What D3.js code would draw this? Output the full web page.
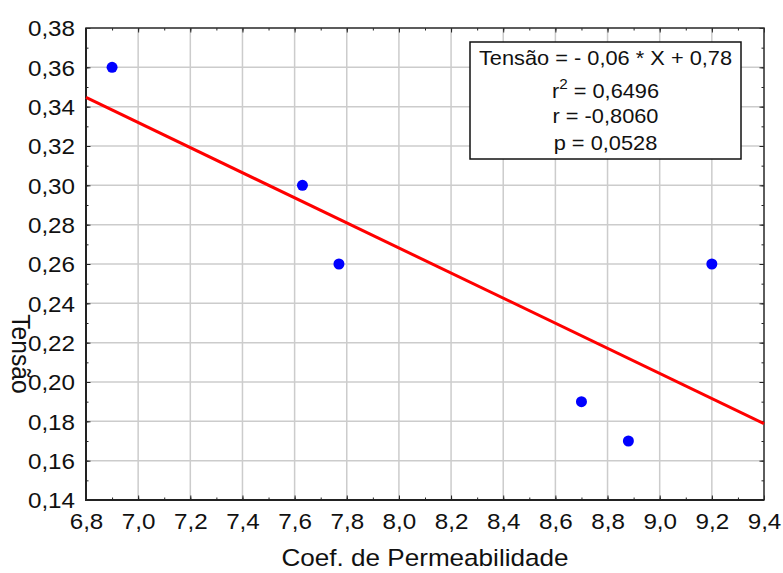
<!DOCTYPE html>
<html>
<head>
<meta charset="utf-8">
<script src="https://cdn.jsdelivr.net/npm/d3@7"></script>
<style>
  html, body { margin: 0; padding: 0; background: #fff; }
  svg { display: block; font-family: "Liberation Sans", Arial, sans-serif; }
</style>
</head>
<body>
<svg id="chart" width="783" height="573"></svg>
<script>
// ---- data ----
const permeabilidade = [6.9, 7.63, 7.77, 8.70, 8.88, 9.20];
const tensao = [0.36, 0.30, 0.26, 0.19, 0.17, 0.26];
const xTicks = [6.8, 7.0, 7.2, 7.4, 7.6, 7.8, 8.0, 8.2, 8.4, 8.6, 8.8, 9.0, 9.2, 9.4];
const yTicks = [0.14, 0.16, 0.18, 0.20, 0.22, 0.24, 0.26, 0.28, 0.30, 0.32, 0.34, 0.36, 0.38];
const statsLines = ["Tensão = - 0,06 * X + 0,78", "= 0,6496", "r = -0,8060", "p = 0,0528"];
const xTitle = "Coef. de Permeabilidade";
const yTitle = "Tensão";

// ---- layout ----
const W = 783, H = 573;
const plot = { left: 86, top: 28, right: 764, bottom: 500 };
const svg = d3.select("#chart");
svg.append("rect").attr("width", W).attr("height", H).attr("fill", "#fff");

const x = d3.scaleLinear().domain([6.8, 9.4]).range([plot.left, plot.right]);
const y = d3.scaleLinear().domain([0.14, 0.38]).range([plot.bottom, plot.top]);
const fmt = d => d3.format(".1f")(d).replace(".", ",");
const fmtY = d => d3.format(".2f")(d).replace(".", ",");

// grid
const grid = svg.append("g").attr("stroke", "#cccccc").attr("stroke-width", 1.5);
grid.selectAll("line.vx").data(xTicks).join("line")
  .attr("x1", d => x(d)).attr("x2", d => x(d))
  .attr("y1", plot.top).attr("y2", plot.bottom);
grid.selectAll("line.hy").data(yTicks).join("line")
  .attr("y1", d => y(d)).attr("y2", d => y(d))
  .attr("x1", plot.left).attr("x2", plot.right);

// minor tick values
const xMinor = d3.range(6.8, 9.4001, 0.1);
const yMinor = d3.range(0.14, 0.38001, 0.01);

// axes with inward ticks
function styleTicks(g) { g.select(".domain").remove(); g.selectAll("line").attr("stroke", "#222"); }
// bottom
svg.append("g").attr("transform", `translate(0,${plot.bottom})`)
  .call(d3.axisBottom(x).tickValues(xMinor).tickSize(-2.5).tickFormat(""))
  .call(styleTicks);
const xAx = svg.append("g").attr("transform", `translate(0,${plot.bottom})`)
  .call(d3.axisBottom(x).tickValues(xTicks).tickSize(-4.5).tickFormat(fmt).tickPadding(28))
  .call(styleTicks);
xAx.selectAll("text").attr("font-size", 22).attr("fill", "#111")
  .attr("font-family", "Liberation Sans, Arial, sans-serif")
  .attr("dy", 0).attr("y", 29).attr("transform", "scale(1.1,1)");
// top
svg.append("g").attr("transform", `translate(0,${plot.top})`)
  .call(d3.axisTop(x).tickValues(xMinor).tickSize(-2.5).tickFormat(""))
  .call(styleTicks);
svg.append("g").attr("transform", `translate(0,${plot.top})`)
  .call(d3.axisTop(x).tickValues(xTicks).tickSize(-4.5).tickFormat(""))
  .call(styleTicks);
// left
svg.append("g").attr("transform", `translate(${plot.left},0)`)
  .call(d3.axisLeft(y).tickValues(yMinor).tickSize(-2.5).tickFormat(""))
  .call(styleTicks);
const yAx = svg.append("g").attr("transform", `translate(${plot.left},0)`)
  .call(d3.axisLeft(y).tickValues(yTicks).tickSize(-4.5).tickFormat(fmtY))
  .call(styleTicks);
yAx.selectAll("text").attr("font-size", 22).attr("fill", "#111")
  .attr("font-family", "Liberation Sans, Arial, sans-serif")
  .attr("x", -10).attr("dy", "0.36em").attr("transform", "scale(1.1,1)");
// right
svg.append("g").attr("transform", `translate(${plot.right},0)`)
  .call(d3.axisRight(y).tickValues(yMinor).tickSize(-2.5).tickFormat(""))
  .call(styleTicks);
svg.append("g").attr("transform", `translate(${plot.right},0)`)
  .call(d3.axisRight(y).tickValues(yTicks).tickSize(-4.5).tickFormat(""))
  .call(styleTicks);

// frame
svg.append("rect")
  .attr("x", plot.left).attr("y", plot.top)
  .attr("width", plot.right - plot.left).attr("height", plot.bottom - plot.top)
  .attr("fill", "none").attr("stroke", "#333").attr("stroke-width", 1.5);
svg.append("path")
  .attr("d", `M${plot.left},${plot.top}V${plot.bottom}H${plot.right}`)
  .attr("fill", "none").attr("stroke", "#222").attr("stroke-width", 2);

// regression line (least squares from data)
const mx = d3.mean(permeabilidade), my = d3.mean(tensao);
const sxy = d3.sum(permeabilidade, (v, i) => (v - mx) * (tensao[i] - my));
const sxx = d3.sum(permeabilidade, v => (v - mx) * (v - mx));
const slope = sxy / sxx, intercept = my - slope * mx;
const dom = x.domain();
svg.append("line")
  .attr("x1", x(dom[0])).attr("y1", y(intercept + slope * dom[0]))
  .attr("x2", x(dom[1])).attr("y2", y(intercept + slope * dom[1]))
  .attr("stroke", "#ff0000").attr("stroke-width", 3);

// points
svg.append("g").selectAll("circle").data(permeabilidade).join("circle")
  .attr("cx", d => x(d)).attr("cy", (d, i) => y(tensao[i]))
  .attr("r", 5.5).attr("fill", "#0000ff");

// stats box
const box = { x: 470, y: 42, w: 271, h: 117 };
svg.append("rect").attr("x", box.x).attr("y", box.y).attr("width", box.w).attr("height", box.h)
  .attr("fill", "#fff").attr("stroke", "#111").attr("stroke-width", 1.5);
const cx = box.x + box.w / 2;
const baselines = [23, 56, 81, 108];
statsLines.forEach((s, i) => {
  const g = svg.append("g").attr("transform", `translate(${cx},${box.y + baselines[i]})`);
  const t = g.append("text").attr("text-anchor", "middle").attr("font-size", 20)
    .attr("fill", "#111").attr("transform", "scale(1.09,1)");
  if (i === 1) {
    t.append("tspan").text("r");
    t.append("tspan").attr("font-size", 14).attr("dy", -9).text("2");
    t.append("tspan").attr("dy", 9).text(" " + s);
  } else {
    t.text(s);
  }
});

// axis titles
svg.append("g").attr("transform", `translate(${(plot.left + plot.right) / 2},566)`)
  .append("text").attr("text-anchor", "middle").attr("font-size", 23.5).attr("fill", "#111")
  .attr("transform", "scale(1.11,1)").text(xTitle);
svg.append("g").attr("transform", `translate(12,354) rotate(90)`)
  .append("text").attr("text-anchor", "middle").attr("font-size", 23.5).attr("fill", "#111")
  .attr("transform", "scale(1.05,1.08)").text(yTitle);
</script>
</body>
</html>
